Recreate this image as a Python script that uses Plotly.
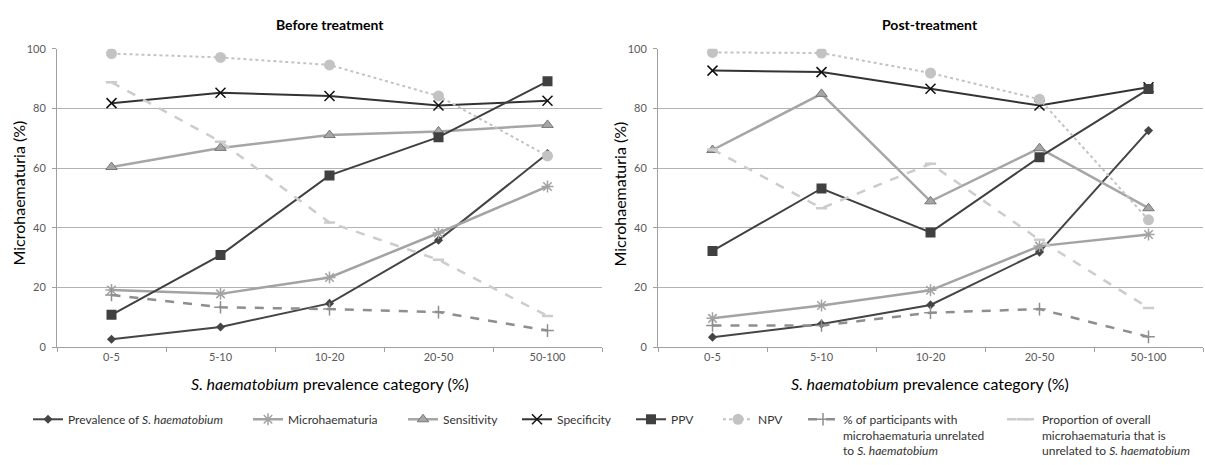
import plotly.graph_objects as go

categories = ["0-5", "5-10", "10-20", "20-50", "50-100"]

# Before treatment
pre_prevalence = [2.7, 6.8, 14.7, 35.9, 64.9]
pre_micro = [19.2, 17.9, 23.4, 38.3, 53.9]
pre_sens = [60.4, 66.8, 71.1, 72.3, 74.5]
pre_spec = [81.8, 85.3, 84.2, 81.0, 82.6]
pre_ppv = [10.9, 30.9, 57.6, 70.4, 89.1]
pre_npv = [98.4, 97.1, 94.6, 84.2, 64.1]
pre_pct_unrel = [17.5, 13.4, 12.8, 11.8, 5.6]
pre_prop_unrel = [88.8, 68.9, 41.8, 29.3, 10.5]

# Post-treatment
post_prevalence = [3.4, 7.8, 14.2, 31.9, 72.6]
post_micro = [9.7, 14.0, 19.1, 33.9, 37.8]
post_sens = [66.1, 84.9, 48.9, 66.7, 46.6]
post_spec = [92.7, 92.2, 86.6, 81.0, 87.1]
post_ppv = [32.3, 53.2, 38.5, 63.7, 86.5]
post_npv = [98.8, 98.6, 91.9, 83.1, 42.7]
post_pct_unrel = [7.3, 7.3, 11.6, 12.8, 3.5]
post_prop_unrel = [66.3, 46.6, 61.5, 36.0, 13.2]

series_names = [
    "Prevalence of <i>S. haematobium</i>",
    "Microhaematuria",
    "Sensitivity",
    "Specificity",
    "PPV",
    "NPV",
    "% of participants with<br>microhaematuria unrelated<br>to <i>S. haematobium</i>",
    "Proportion of overall<br>microhaematuria that is<br>unrelated to <i>S. haematobium</i>",
]

styles = [
    dict(line=dict(color="#454545", width=2), marker=dict(symbol="diamond", size=7, color="#454545")),
    dict(line=dict(color="#a3a3a3", width=2.5), marker=dict(symbol="asterisk-open", size=10, color="#a3a3a3", line=dict(width=1.5, color="#a3a3a3"))),
    dict(line=dict(color="#a6a6a6", width=2.5), marker=dict(symbol="triangle-up", size=10, color="#a6a6a6", line=dict(width=1, color="#777777"))),
    dict(line=dict(color="#333333", width=2), marker=dict(symbol="x-thin-open", size=10, color="#111111", line=dict(width=1.5, color="#111111"))),
    dict(line=dict(color="#404040", width=2), marker=dict(symbol="square", size=10, color="#404040")),
    dict(line=dict(color="#c3c3c3", width=2, dash="dot"), marker=dict(symbol="circle", size=11, color="#c3c3c3")),
    dict(line=dict(color="#8e8e8e", width=2.5, dash="dash"), marker=dict(symbol="cross-thin-open", size=9, color="#8e8e8e", line=dict(width=1.5, color="#8e8e8e"))),
    dict(line=dict(color="#cccccc", width=2.5, dash="dash"), marker=dict(symbol="line-ew-open", size=8, color="#cccccc", line=dict(width=2.5, color="#cccccc"))),
]

pre_data = [pre_prevalence, pre_micro, pre_sens, pre_spec, pre_ppv, pre_npv, pre_pct_unrel, pre_prop_unrel]
post_data = [post_prevalence, post_micro, post_sens, post_spec, post_ppv, post_npv, post_pct_unrel, post_prop_unrel]

# legend symbol start positions in px
legend_px = [28, 248, 403, 517, 631, 718, 803, 1002]

W, H = 1205, 465
fig = go.Figure()

for i, (name, st) in enumerate(zip(series_names, styles)):
    lg = "legend" if i == 0 else f"legend{i+1}"
    fig.add_trace(go.Scatter(x=categories, y=pre_data[i], name=name, mode="lines+markers",
                             xaxis="x", yaxis="y", legend=lg, showlegend=True, **st))
for i, (name, st) in enumerate(zip(series_names, styles)):
    fig.add_trace(go.Scatter(x=categories, y=post_data[i], name=name, mode="lines+markers",
                             xaxis="x2", yaxis="y2", showlegend=False, **st))

y_bottom = 1 - 354 / H
y_top = 1 - 43.5 / H

axis_common_x = dict(type="category", range=[-0.5, 4.5], tickson="boundaries", ticks="outside",
                     ticklen=4, tickcolor="#a0a0a0", showline=True, linecolor="#a0a0a0", linewidth=1,
                     showgrid=False, tickfont=dict(family="Lato", size=11, color="#595959"), zeroline=False)
axis_common_y = dict(range=[0, 100], tickvals=[0, 20, 40, 60, 80, 100], ticks="outside", ticklen=4,
                     tickcolor="#a0a0a0", showline=True, linecolor="#a0a0a0", linewidth=1,
                     showgrid=True, gridcolor="#b3b3b3", gridwidth=1, zeroline=False,
                     tickfont=dict(family="Lato", size=11, color="#595959"), ticklabelstandoff=4)

layout = dict(
    width=W, height=H,
    margin=dict(l=0, r=0, t=0, b=0),
    plot_bgcolor="white", paper_bgcolor="white",
    xaxis=dict(domain=[57 / W, 602 / W], anchor="y", **axis_common_x),
    yaxis=dict(domain=[y_bottom, y_top], anchor="x", **axis_common_y),
    xaxis2=dict(domain=[658 / W, 1203 / W], anchor="y2", **axis_common_x),
    yaxis2=dict(domain=[y_bottom, y_top], anchor="x2", **axis_common_y),
    annotations=[
        dict(text="<b>Before treatment</b>", x=330 / W, y=1 - 18 / H, xref="paper", yref="paper",
             showarrow=False, font=dict(family="Lato", size=14, color="#000000"), xanchor="center", yanchor="middle"),
        dict(text="<b>Post-treatment</b>", x=930 / W, y=1 - 18 / H, xref="paper", yref="paper",
             showarrow=False, font=dict(family="Lato", size=14, color="#000000"), xanchor="center", yanchor="middle"),
        dict(text="<i>S. haematobium</i> prevalence category (%)", x=330 / W, y=1 - 392 / H, xref="paper", yref="paper",
             showarrow=False, font=dict(family="Lato", size=16, color="#000000"), xanchor="center", yanchor="middle"),
        dict(text="<i>S. haematobium</i> prevalence category (%)", x=930 / W, y=1 - 392 / H, xref="paper", yref="paper",
             showarrow=False, font=dict(family="Lato", size=16, color="#000000"), xanchor="center", yanchor="middle"),
        dict(text="Microhaematuria (%)", x=18 / W, y=1 - 194 / H, xref="paper", yref="paper", textangle=-90,
             showarrow=False, font=dict(family="Lato", size=16, color="#000000"), xanchor="center", yanchor="middle"),
        dict(text="Microhaematuria (%)", x=619 / W, y=1 - 194 / H, xref="paper", yref="paper", textangle=-90,
             showarrow=False, font=dict(family="Lato", size=16, color="#000000"), xanchor="center", yanchor="middle"),
    ],
)

for i, px in enumerate(legend_px):
    key = "legend" if i == 0 else f"legend{i+1}"
    layout[key] = dict(x=px / W, y=1 - 414 / H, xanchor="left", yanchor="top", orientation="h",
                       bgcolor="rgba(0,0,0,0)", borderwidth=0, valign="top",
                       font=dict(family="Lato", size=12, color="#333333"))

fig.update_layout(**layout)
fig.write_html("out.html", config={"displayModeBar": False},
               post_script="document.body.style.margin='0';document.body.style.overflow='hidden';")
